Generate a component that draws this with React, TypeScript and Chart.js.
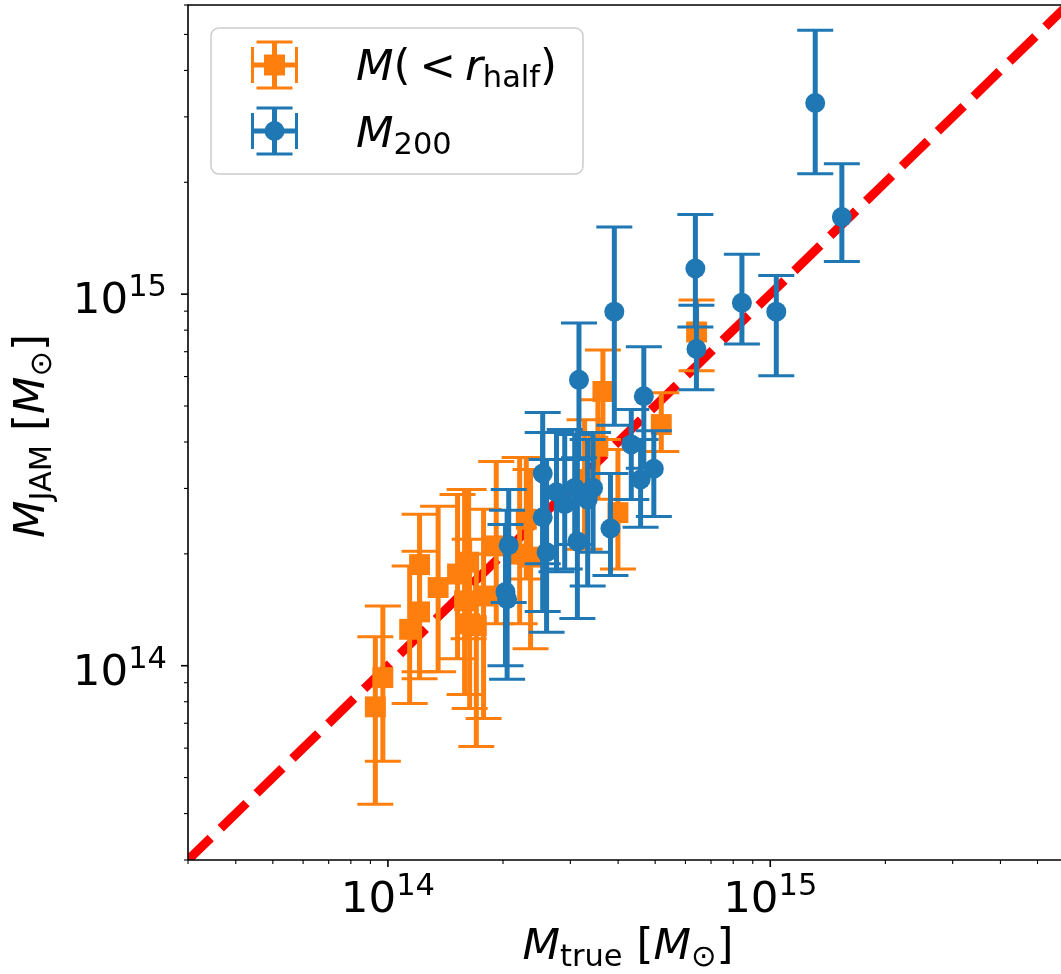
import React, { useEffect, useRef } from "react";
import { Chart, registerables } from "chart.js";

Chart.register(...registerables);

// ---------------- data (solar masses) ----------------
const ORANGE_X = [0.927e14, 0.97e14, 1.14e14, 1.21e14, 1.21e14, 1.353e14, 1.587e14, 1.626e14, 1.779e14, 1.703e14, 1.636e14, 1.92e14, 2.211e14, 2.301e14, 3.65e14, 3.541e14, 3.996e14, 5.188e14, 6.417e14, 2.361e14, 1.521e14, 3.269e14];
const ORANGE_Y = [0.775e14, 0.929e14, 1.253e14, 1.396e14, 1.871e14, 1.623e14, 1.494e14, 1.9e14, 1.54e14, 1.282e14, 1.296e14, 2.101e14, 1.997e14, 2.478e14, 5.472e14, 3.896e14, 2.582e14, 4.456e14, 7.909e14, 1.96e14, 1.765e14, 3.172e14];
const ORANGE_LO = [0.424e14, 0.553e14, 0.791e14, 0.923e14, 0.964e14, 0.964e14, 0.836e14, 1.181e14, 0.721e14, 0.606e14, 0.767e14, 1.296e14, 1.296e14, 1.711e14, 4.061e14, 2.804e14, 1.82e14, 3.771e14, 6.217e14, 1.111e14, 1.044e14, 2.059e14];
const ORANGE_HI = [1.196e14, 1.448e14, 1.854e14, 2.034e14, 2.556e14, 2.685e14, 2.982e14, 2.982e14, 2.636e14, 1.997e14, 2.19e14, 3.545e14, 3.634e14, 3.634e14, 7.077e14, 5.197e14, 3.818e14, 5.428e14, 9.636e14, 3.375e14, 2.891e14, 4.594e14];

const BLUE_X = [13.11e14, 15.39e14, 6.37e14, 6.41e14, 8.43e14, 10.37e14, 3.91e14, 4.67e14, 3.16e14, 4.33e14, 4.96e14, 4.58e14, 2.54e14, 2.07e14, 2.03e14, 2.54e14, 2.6e14, 2.76e14, 3.44e14, 3.33e14, 3.13e14, 3.82e14, 2.9e14, 3.08e14, 2.05e14];
const BLUE_Y = [32.7e14, 16.12e14, 11.72e14, 7.12e14, 9.48e14, 8.97e14, 8.97e14, 5.31e14, 5.88e14, 3.94e14, 3.39e14, 3.17e14, 3.29e14, 2.11e14, 1.58e14, 2.51e14, 2.02e14, 2.93e14, 3.01e14, 2.8e14, 2.16e14, 2.34e14, 2.72e14, 3.01e14, 1.51e14];
const BLUE_LO = [21.1e14, 12.25e14, 8.16e14, 5.53e14, 7.34e14, 6.03e14, 4.44e14, 3.4e14, 3.63e14, 2.8e14, 2.52e14, 2.36e14, 1.88e14, 1.48e14, 1.0e14, 1.4e14, 1.23e14, 1.79e14, 2.02e14, 1.64e14, 1.34e14, 1.75e14, 1.82e14, 2.12e14, 0.92e14];
const BLUE_HI = [51.3e14, 22.45e14, 16.39e14, 9.34e14, 12.8e14, 11.22e14, 15.15e14, 7.22e14, 8.36e14, 4.89e14, 4.29e14, 4.06e14, 4.8e14, 2.98e14, 2.4e14, 4.24e14, 3.59e14, 4.24e14, 4.24e14, 4.06e14, 3.59e14, 3.29e14, 4.32e14, 4.19e14, 2.62e14];

const ONE_TO_ONE = [1e13, 1e16];

const X_MIN = 3e13;
const X_MAX = 5.76e15;
const Y_MIN = 3e13;
const Y_MAX = 6e15;

const MAJOR_TICKS = [1e14, 1e15];
const MAJOR_EXPONENTS = ["14", "15"];
const MINOR_TICKS = [3e13, 4e13, 5e13, 6e13, 7e13, 8e13, 9e13, 2e14, 3e14, 4e14, 5e14, 6e14, 7e14, 8e14, 9e14, 2e15, 3e15, 4e15, 5e15, 6e15];

const LEGEND_LABELS = ["half", "200"];

// ---------------- styling ----------------
const ORANGE = "#ff7f0e";
const BLUE = "#1f77b4";
const FONT = '"DejaVu Sans"';
const BIG = 43.5;
const SMALL = 30.5;

type Seg = { t: string; size: number; italic?: boolean; dy?: number; gap?: number };

function segFont(s: Seg) {
  return `${s.italic ? "italic " : ""}${s.size}px ${FONT}`;
}
function measureSegs(ctx: CanvasRenderingContext2D, segs: Seg[]) {
  let w = 0;
  for (const s of segs) {
    ctx.font = segFont(s);
    w += ctx.measureText(s.t).width + (s.gap || 0);
  }
  return w;
}
function drawSegs(ctx: CanvasRenderingContext2D, segs: Seg[], x: number, y: number) {
  let cx = x;
  ctx.textAlign = "left";
  ctx.textBaseline = "alphabetic";
  for (const s of segs) {
    ctx.font = segFont(s);
    ctx.fillText(s.t, cx, y + (s.dy || 0));
    cx += ctx.measureText(s.t).width + (s.gap || 0);
  }
}

function drawErrorBar(ctx: CanvasRenderingContext2D, px: number, yLo: number, yHi: number) {
  ctx.lineWidth = 5;
  ctx.beginPath();
  ctx.moveTo(px, yLo);
  ctx.lineTo(px, yHi);
  ctx.stroke();
  ctx.lineWidth = 3;
  ctx.beginPath();
  ctx.moveTo(px - 18, yLo);
  ctx.lineTo(px + 18, yLo);
  ctx.moveTo(px - 18, yHi);
  ctx.lineTo(px + 18, yHi);
  ctx.stroke();
}

const errorBarPlugin = {
  id: "errorBars",
  beforeDatasetDraw(chart: any, args: any) {
    const ds = chart.data.datasets[args.index];
    if (!ds.errLo) return;
    const ctx: CanvasRenderingContext2D = chart.ctx;
    const xs = chart.scales.x;
    const ys = chart.scales.y;
    const a = chart.chartArea;
    ctx.save();
    ctx.beginPath();
    ctx.rect(a.left, a.top, a.right - a.left, a.bottom - a.top);
    ctx.clip();
    ctx.strokeStyle = ds.errColor;
    ctx.lineCap = "butt";
    ds.data.forEach((p: any, i: number) => {
      const px = xs.getPixelForValue(p.x);
      drawErrorBar(ctx, px, ys.getPixelForValue(ds.errLo[i]), ys.getPixelForValue(ds.errHi[i]));
    });
    ctx.restore();
  },
};

const decorPlugin = {
  id: "decor",
  afterDraw(chart: any) {
    const ctx: CanvasRenderingContext2D = chart.ctx;
    const xs = chart.scales.x;
    const ys = chart.scales.y;
    const a = chart.chartArea;
    ctx.save();
    ctx.strokeStyle = "#000";
    ctx.fillStyle = "#000";

    // spines
    ctx.lineWidth = 1.6;
    ctx.beginPath();
    ctx.moveTo(a.left, a.bottom);
    ctx.lineTo(a.left, a.top);
    ctx.lineTo(a.right + 5, a.top);
    ctx.moveTo(a.left, a.bottom);
    ctx.lineTo(a.right + 5, a.bottom);
    ctx.stroke();

    // ticks
    const tick = (v: number, len: number, w: number) => {
      ctx.lineWidth = w;
      const px = xs.getPixelForValue(v);
      if (px >= a.left - 1 && px <= a.right + 1) {
        ctx.beginPath();
        ctx.moveTo(px, a.bottom);
        ctx.lineTo(px, a.bottom + len);
        ctx.stroke();
      }
      const py = ys.getPixelForValue(v);
      if (py >= a.top - 1 && py <= a.bottom + 1) {
        ctx.beginPath();
        ctx.moveTo(a.left, py);
        ctx.lineTo(a.left - len, py);
        ctx.stroke();
      }
    };
    MINOR_TICKS.forEach((v) => tick(v, 4, 1.1));
    MAJOR_TICKS.forEach((v) => tick(v, 7, 1.6));

    // tick labels
    MAJOR_TICKS.forEach((v, i) => {
      const segs: Seg[] = [
        { t: "10", size: BIG },
        { t: MAJOR_EXPONENTS[i], size: SMALL, dy: -17 },
      ];
      const w = measureSegs(ctx, segs);
      const px = xs.getPixelForValue(v);
      drawSegs(ctx, segs, px - w / 2, a.bottom + 52);
      const py = ys.getPixelForValue(v);
      drawSegs(ctx, segs, a.left - 21 - w, py + 19);
    });

    // axis titles
    const xTitle: Seg[] = [
      { t: "M", size: BIG, italic: true },
      { t: "true", size: SMALL, dy: 7 },
      { t: " [", size: BIG },
      { t: "M", size: BIG, italic: true },
      { t: "\u2299", size: SMALL, dy: 7 },
      { t: "]", size: BIG },
    ];
    const xw = measureSegs(ctx, xTitle);
    drawSegs(ctx, xTitle, 628 - xw / 2, a.bottom + 99);

    const yTitle: Seg[] = [
      { t: "M", size: BIG, italic: true },
      { t: "JAM", size: SMALL, dy: 7 },
      { t: " [", size: BIG },
      { t: "M", size: BIG, italic: true },
      { t: "\u2299", size: SMALL, dy: 7 },
      { t: "]", size: BIG },
    ];
    const yw = measureSegs(ctx, yTitle);
    ctx.save();
    ctx.translate(44, 436);
    ctx.rotate(-Math.PI / 2);
    drawSegs(ctx, yTitle, -yw / 2, 0);
    ctx.restore();

    // legend
    const lx = 211, ly = 28, lw = 372, lh = 146, r = 8;
    ctx.beginPath();
    ctx.moveTo(lx + r, ly);
    ctx.arcTo(lx + lw, ly, lx + lw, ly + lh, r);
    ctx.arcTo(lx + lw, ly + lh, lx, ly + lh, r);
    ctx.arcTo(lx, ly + lh, lx, ly, r);
    ctx.arcTo(lx, ly, lx + lw, ly, r);
    ctx.closePath();
    ctx.fillStyle = "rgba(255,255,255,0.8)";
    ctx.fill();
    ctx.strokeStyle = "#cccccc";
    ctx.lineWidth = 1.5;
    ctx.stroke();

    const handle = (cy: number, color: string, square: boolean) => {
      const cx = 274.5;
      ctx.strokeStyle = color;
      ctx.fillStyle = color;
      ctx.lineWidth = 5;
      ctx.beginPath();
      ctx.moveTo(cx - 22, cy);
      ctx.lineTo(cx + 22, cy);
      ctx.moveTo(cx, cy - 23);
      ctx.lineTo(cx, cy + 23);
      ctx.stroke();
      ctx.lineWidth = 3;
      ctx.beginPath();
      ctx.moveTo(cx - 18, cy - 23);
      ctx.lineTo(cx + 18, cy - 23);
      ctx.moveTo(cx - 18, cy + 23);
      ctx.lineTo(cx + 18, cy + 23);
      ctx.moveTo(cx - 22, cy - 18);
      ctx.lineTo(cx - 22, cy + 18);
      ctx.moveTo(cx + 22, cy - 18);
      ctx.lineTo(cx + 22, cy + 18);
      ctx.stroke();
      ctx.beginPath();
      if (square) ctx.rect(cx - 10.5, cy - 10.5, 21, 21);
      else ctx.arc(cx, cy, 10, 0, Math.PI * 2);
      ctx.fill();
    };
    handle(65, ORANGE, true);
    handle(131, BLUE, false);

    ctx.fillStyle = "#000";
    drawSegs(
      ctx,
      [
        { t: "M", size: BIG, italic: true },
        { t: "(", size: BIG, gap: 9 },
        { t: "<", size: BIG, gap: 9 },
        { t: "r", size: BIG, italic: true },
        { t: LEGEND_LABELS[0], size: SMALL, dy: 7 },
        { t: ")", size: BIG },
      ],
      356,
      80
    );
    drawSegs(
      ctx,
      [
        { t: "M", size: BIG, italic: true },
        { t: LEGEND_LABELS[1], size: SMALL, dy: 7 },
      ],
      356,
      147
    );
    ctx.restore();
  },
};

export default function App() {
  const ref = useRef<HTMLCanvasElement | null>(null);
  useEffect(() => {
    if (!ref.current) return;
    const chart = new Chart(ref.current, {
      type: "scatter",
      data: {
        datasets: [
          {
            type: "line",
            label: "1:1",
            data: ONE_TO_ONE.map((v) => ({ x: v, y: v })),
            borderColor: "#ff0000",
            borderWidth: 9,
            borderDash: [36, 14],
            borderCapStyle: "butt",
            pointRadius: 0,
            fill: false,
            order: 3,
          } as any,
          {
            label: "M(<r_half)",
            data: ORANGE_X.map((x, i) => ({ x, y: ORANGE_Y[i] })),
            errLo: ORANGE_LO,
            errHi: ORANGE_HI,
            errColor: ORANGE,
            backgroundColor: ORANGE,
            borderWidth: 0,
            pointStyle: "rect",
            pointRadius: 14.8,
            order: 2,
          } as any,
          {
            label: "M200",
            data: BLUE_X.map((x, i) => ({ x, y: BLUE_Y[i] })),
            errLo: BLUE_LO,
            errHi: BLUE_HI,
            errColor: BLUE,
            backgroundColor: BLUE,
            borderWidth: 0,
            pointStyle: "circle",
            pointRadius: 10,
            order: 1,
          } as any,
        ],
      },
      options: {
        animation: false,
        responsive: false,
        devicePixelRatio: 1,
        layout: { autoPadding: false, padding: { left: 188, top: 5, right: 0, bottom: 114 } },
        plugins: { legend: { display: false }, tooltip: { enabled: false } },
        scales: {
          x: { type: "logarithmic", min: X_MIN, max: X_MAX, display: false },
          y: { type: "logarithmic", min: Y_MIN, max: Y_MAX, display: false },
        },
      },
      plugins: [errorBarPlugin, decorPlugin],
    });
    return () => chart.destroy();
  }, []);
  return (
    <div style={{ position: "absolute", left: 0, top: 0, width: 1061, height: 974, background: "#fff" }}>
      <canvas ref={ref} width={1061} height={974} style={{ width: 1061, height: 974, display: "block" }} />
    </div>
  );
}
